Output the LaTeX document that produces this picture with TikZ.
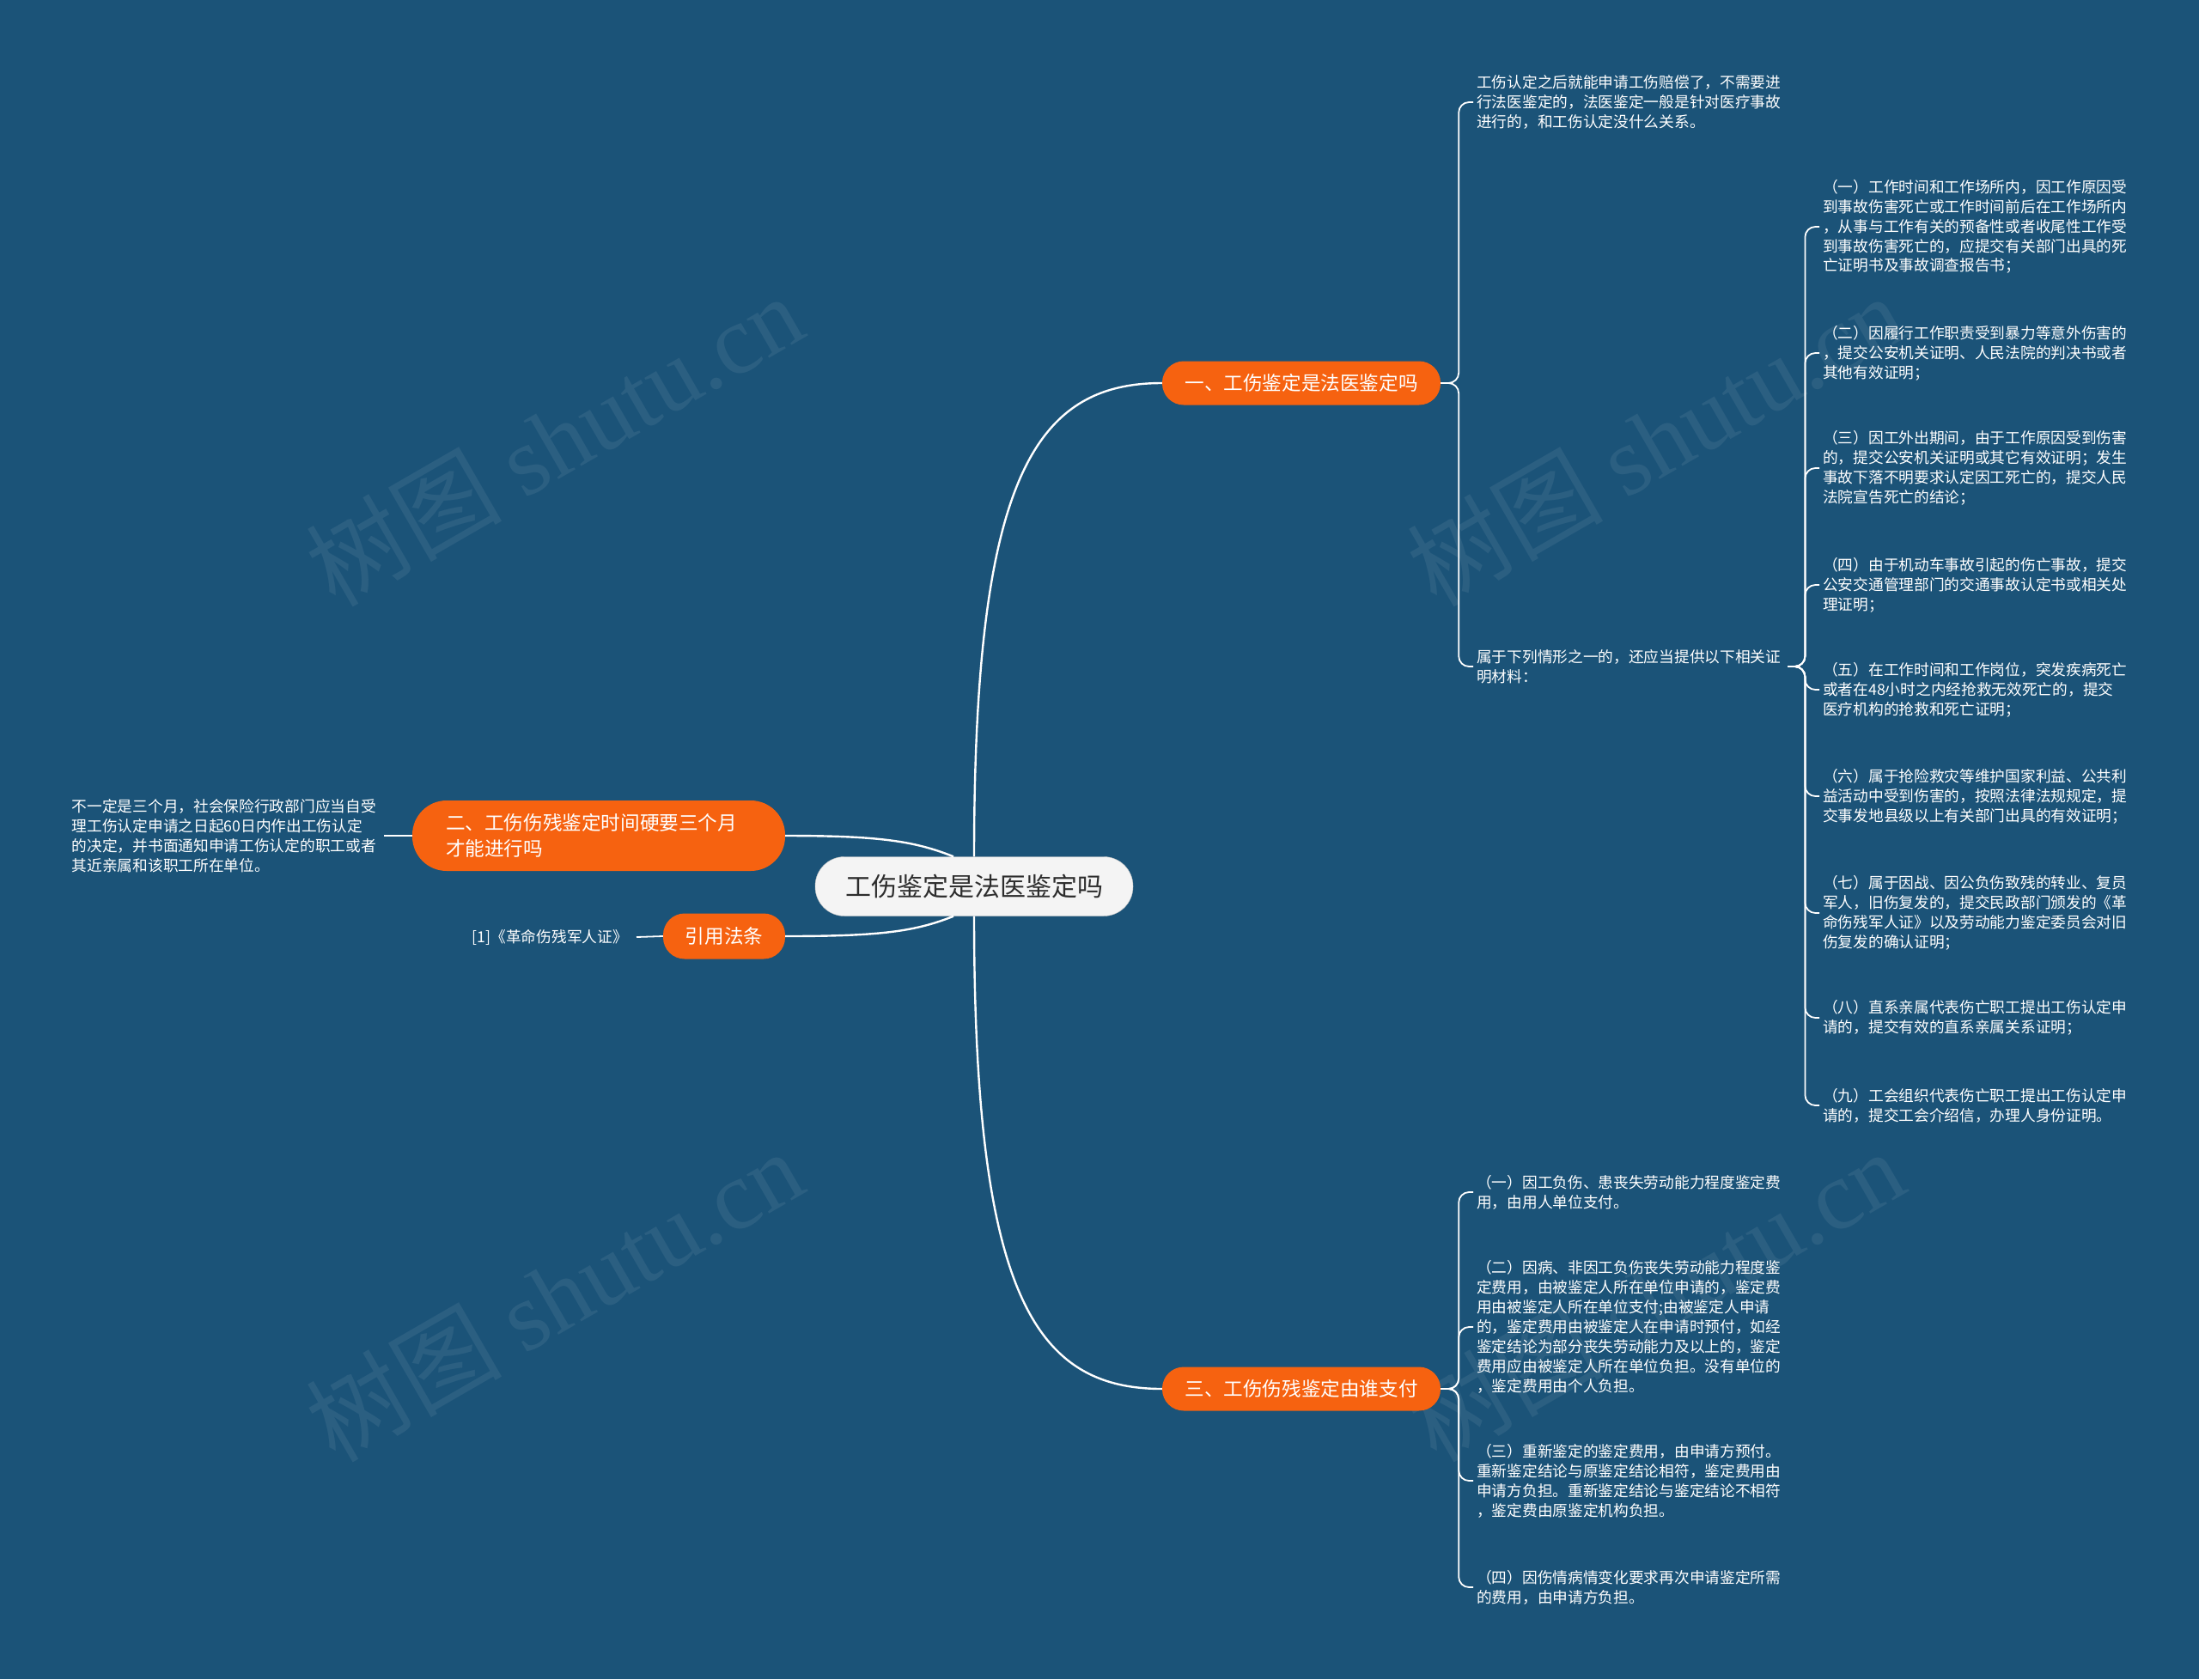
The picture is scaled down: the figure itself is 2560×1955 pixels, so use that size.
\documentclass[tikz,border=0pt]{standalone}
\usepackage{fontspec}
\setmainfont{Noto Sans CJK SC}
\newfontfamily\wmlatin{Liberation Serif}
\usepackage{tikz}
\usetikzlibrary{positioning,calc}
\definecolor{bgBlue}{RGB}{27,83,120}
\definecolor{mOrange}{RGB}{246,98,16}
\definecolor{rootFill}{RGB}{244,244,244}
\definecolor{rootText}{RGB}{45,45,45}

\begin{document}
\begin{tikzpicture}[x=1pt, y=-1pt,
    root/.style={fill=rootFill, draw=rootFill!80!black, rounded corners=34pt, minimum width=370pt,
      minimum height=69pt, text=rootText, font=\fontsize{30}{34}\selectfont},
    branch/.style={fill=mOrange, rounded corners=25pt, minimum height=51pt, text=white,
      font=\fontsize{22.6}{29.4}\selectfont},
    leaf/.style={inner sep=0pt, align=left, text=white, font=\fontsize{17.7}{22.9}\selectfont},
    trunk/.style={white, line width=2.4pt},
    link/.style={white, line width=1.8pt, rounded corners=12pt},
    wmark/.style={rotate=30, text=white, opacity=0.07, font=\fontsize{114}{120}\selectfont}]
    % --- canvas ---
    \fill[bgBlue] (0,0) rectangle (2560,1955);
    \useasboundingbox (0,0) rectangle (2560,1955);
    % --- watermarks ---
    \node[wmark] (wm1) at (645,512) {树图 {\wmlatin shutu.cn}};
    \node[wmark] (wm2) at (1927,512) {树图 {\wmlatin shutu.cn}};
    \node[wmark] (wm3) at (645,1508) {树图 {\wmlatin shutu.cn}};
    \node[wmark] (wm4) at (1927,1508) {树图 {\wmlatin shutu.cn}};
    % --- main nodes ---
    \node[root] (root) at (1134,1032) {工伤鉴定是法医鉴定吗};
    \node[branch, minimum width=324pt] (b1) at (1515,446) {一、工伤鉴定是法医鉴定吗};
    \node[branch, minimum width=324pt] (b3) at (1515,1617) {三、工伤伤残鉴定由谁支付};
    \node[branch, rounded corners=40pt, minimum height=82pt, text width=356pt, inner xsep=39pt,
      align=left] (b2) at (697,973) {二、工伤伤残鉴定时间硬要三个月\\才能进行吗};
    \node[branch, minimum width=142pt, minimum height=53pt] (r1) at (843,1090) {引用法条};
    % --- trunk connectors ---
    \draw[trunk] (root.north) .. controls +(0,-437) and +(-150,0) .. (b1.west);
    \draw[trunk] (root.south) .. controls +(0,437) and +(-150,0) .. (b3.west);
    \draw[trunk] ([xshift=-24pt]root.north) .. controls +(-45,-18) and +(110,0) .. (b2.east);
    \draw[trunk] ([xshift=-24pt]root.south) .. controls +(-45,18) and +(110,0) .. (r1.east);
    % --- left side leaves ---
    \node[leaf, anchor=east] (e1) at (438,973) {不一定是三个月，社会保险行政部门应当自受\\理工伤认定申请之日起60日内作出工伤认定\\的决定，并书面通知申请工伤认定的职工或者\\其近亲属和该职工所在单位。};
    \node[leaf, anchor=east] (cite) at (731,1091) {[1]《革命伤残军人证》};
    \draw[link] (b2.west) -- ([xshift=9pt]e1.east);
    \draw[link] (r1.west) -- ([xshift=10pt]cite.east);
    % --- branch one leaves ---
    \node[leaf, anchor=west] (a1) at (1719,119) {工伤认定之后就能申请工伤赔偿了，不需要进\\行法医鉴定的，法医鉴定一般是针对医疗事故\\进行的，和工伤认定没什么关系。};
    \node[leaf, anchor=west] (a2) at (1719,776) {属于下列情形之一的，还应当提供以下相关证\\明材料：};
    \foreach \n in {a1,a2}
      \draw[link] (b1.east) -- ++(21,0) |- ([xshift=-4pt]\n.west);
    % --- the nine cases ---
    \node[leaf, anchor=west] (c1) at (2122,264) {（一）工作时间和工作场所内，因工作原因受\\到事故伤害死亡或工作时间前后在工作场所内\\，从事与工作有关的预备性或者收尾性工作受\\到事故伤害死亡的，应提交有关部门出具的死\\亡证明书及事故调查报告书；};
    \node[leaf, anchor=west] (c2) at (2122,411) {（二）因履行工作职责受到暴力等意外伤害的\\，提交公安机关证明、人民法院的判决书或者\\其他有效证明；};
    \node[leaf, anchor=west] (c3) at (2122,545) {（三）因工外出期间，由于工作原因受到伤害\\的，提交公安机关证明或其它有效证明；发生\\事故下落不明要求认定因工死亡的，提交人民\\法院宣告死亡的结论；};
    \node[leaf, anchor=west] (c4) at (2122,681) {（四）由于机动车事故引起的伤亡事故，提交\\公安交通管理部门的交通事故认定书或相关处\\理证明；};
    \node[leaf, anchor=west] (c5) at (2122,803) {（五）在工作时间和工作岗位，突发疾病死亡\\或者在48小时之内经抢救无效死亡的，提交\\医疗机构的抢救和死亡证明；};
    \node[leaf, anchor=west] (c6) at (2122,927) {（六）属于抢险救灾等维护国家利益、公共利\\益活动中受到伤害的，按照法律法规规定，提\\交事发地县级以上有关部门出具的有效证明；};
    \node[leaf, anchor=west] (c7) at (2122,1063) {（七）属于因战、因公负伤致残的转业、复员\\军人，旧伤复发的，提交民政部门颁发的《革\\命伤残军人证》以及劳动能力鉴定委员会对旧\\伤复发的确认证明；};
    \node[leaf, anchor=west] (c8) at (2122,1185) {（八）直系亲属代表伤亡职工提出工伤认定申\\请的，提交有效的直系亲属关系证明；};
    \node[leaf, anchor=west] (c9) at (2122,1287) {（九）工会组织代表伤亡职工提出工伤认定申\\请的，提交工会介绍信，办理人身份证明。};
    \foreach \i in {1,...,9}
      \draw[link] ([xshift=8pt]a2.east) -- ++(20,0) |- ([xshift=-4pt]c\i.west);
    % --- branch three leaves ---
    \node[leaf, anchor=west] (d1) at (1719,1388) {（一）因工负伤、患丧失劳动能力程度鉴定费\\用，由用人单位支付。};
    \node[leaf, anchor=west] (d2) at (1719,1545) {（二）因病、非因工负伤丧失劳动能力程度鉴\\定费用，由被鉴定人所在单位申请的，鉴定费\\用由被鉴定人所在单位支付;由被鉴定人申请\\的，鉴定费用由被鉴定人在申请时预付，如经\\鉴定结论为部分丧失劳动能力及以上的，鉴定\\费用应由被鉴定人所在单位负担。没有单位的\\，鉴定费用由个人负担。};
    \node[leaf, anchor=west] (d3) at (1719,1724) {（三）重新鉴定的鉴定费用，由申请方预付。\\重新鉴定结论与原鉴定结论相符，鉴定费用由\\申请方负担。重新鉴定结论与鉴定结论不相符\\，鉴定费由原鉴定机构负担。};
    \node[leaf, anchor=west] (d4) at (1719,1848) {（四）因伤情病情变化要求再次申请鉴定所需\\的费用，由申请方负担。};
    \foreach \n in {d1,d2,d3,d4}
      \draw[link] (b3.east) -- ++(21,0) |- ([xshift=-4pt]\n.west);
\end{tikzpicture}
\end{document}
